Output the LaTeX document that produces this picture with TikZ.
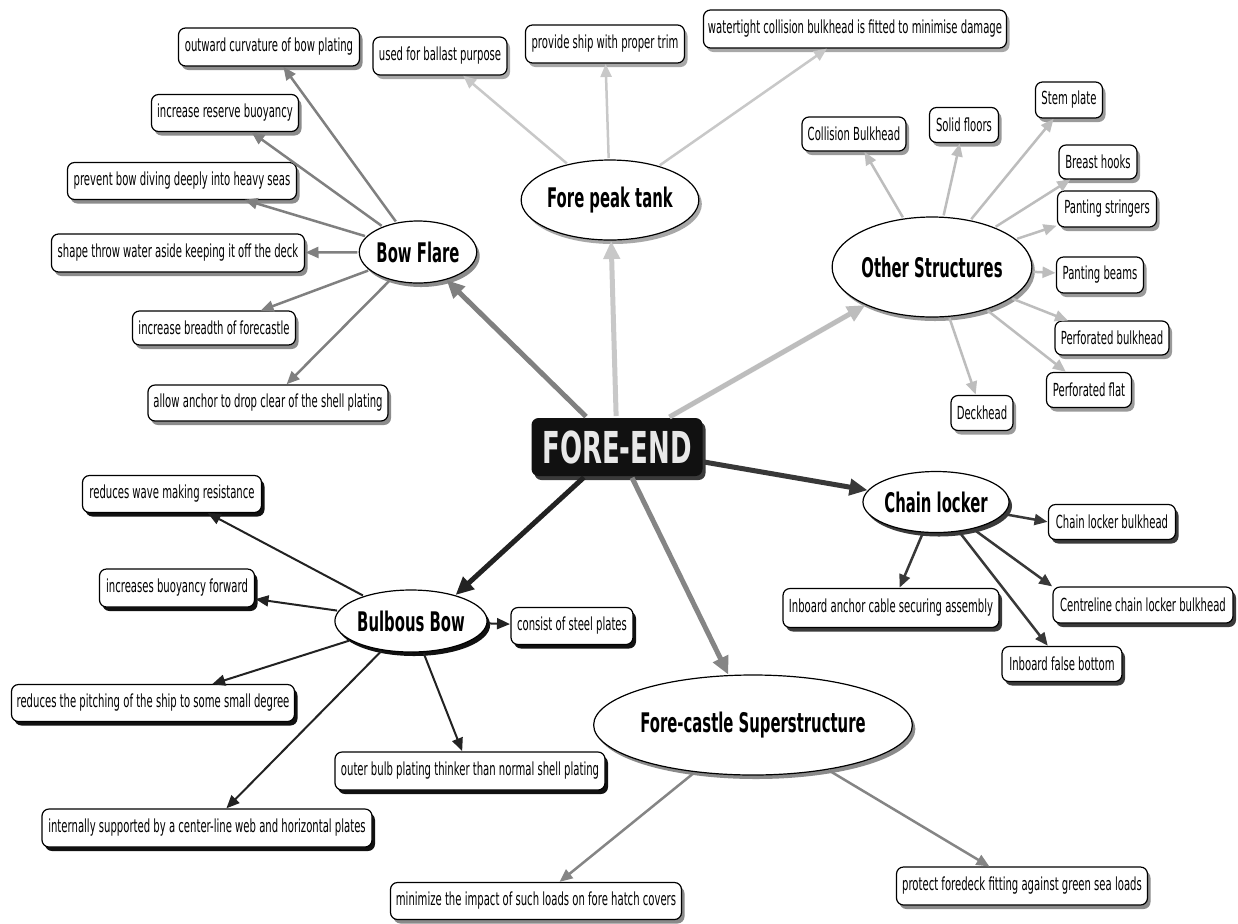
\documentclass[tikz,border=0pt]{standalone}
\usepackage{fontspec}
\setmainfont{DejaVu Sans}
\newfontfamily\lblfont[FakeStretch=0.56]{DejaVu Sans}
\newfontfamily\ttlfont[FakeStretch=0.55]{DejaVu Sans}
\newfontfamily\rootfont[FakeStretch=0.59]{DejaVu Sans}
\usetikzlibrary{arrows.meta,shapes.geometric,shadows}

% line and shadow tones of the six branches
\definecolor{lnFlare}{HTML}{808080}
\definecolor{lnPeak}{HTML}{C8C8C8}
\definecolor{lnOther}{HTML}{BDBDBD}
\definecolor{lnChain}{HTML}{383838}
\definecolor{lnBulb}{HTML}{222222}
\definecolor{lnCastle}{HTML}{858585}
\definecolor{shFlare}{HTML}{8C8C8C}
\definecolor{shPeak}{HTML}{A8A8A8}
\definecolor{shOther}{HTML}{9A9A9A}
\definecolor{shChain}{HTML}{3A3A3A}
\definecolor{shBulb}{HTML}{111111}
\definecolor{shCastle}{HTML}{8A8A8A}
\definecolor{rootText}{HTML}{E8E8E8}
\definecolor{rootFill}{HTML}{111111}

\tikzset{
  every node/.style={inner sep=0pt, outer sep=0pt, align=center},
  box/.style 2 args={minimum width=#1*0.5pt, minimum height=#2*0.5pt},
  shad/.style={drop shadow={shadow xshift=1.5pt, shadow yshift=-2pt, fill=#1, opacity=1}},
  leaf/.style={rectangle, draw=black, line width=0.6pt, fill=white, rounded corners=3.5pt,
    font=\lblfont\fontsize{9}{10}\selectfont},
  hub/.style={ellipse, draw=black, line width=0.6pt, fill=white,
    font=\ttlfont\bfseries\fontsize{13.5}{15}\selectfont},
  root/.style={rectangle, fill=rootFill, rounded corners=3.5pt, text=rootText,
    font=\rootfont\bfseries\fontsize{22}{24}\selectfont},
  sub/.style={draw=#1, line width=1.25pt, -{Triangle[length=6.5pt,width=5.5pt]},
    shorten <=1pt, shorten >=0.5pt},
  main/.style={draw=#1, line width=2.5pt, -{Triangle[length=9pt,width=8pt]},
    shorten <=1pt, shorten >=0.5pt},
}

\begin{document}
\begin{tikzpicture}[x=0.5pt, y=-0.5pt]
\fill[white] (0,0) rectangle (1238,923);
\path[use as bounding box] (0,0) rectangle (1238,923);

% ---------- centre ----------
\node[root, box={171}{58}, shad=shChain] (fe) at (617,447) {FORE-END};

% ---------- branch heads ----------
\node[hub, box={95}{62}, shad=shFlare] (bf) at (418,252) {Bow Flare};
\node[hub, box={142}{80}, shad=shPeak] (fp) at (610,200) {Fore peak tank};
\node[hub, box={157}{100}, shad=shOther] (os) at (932,267) {Other Structures};
\node[hub, box={114}{61}, shad=shChain] (cl) at (936,502) {Chain locker};
\node[hub, box={120}{62}, shad=shBulb] (bb) at (411,621) {Bulbous Bow};
\node[hub, box={238}{100}, shad=shCastle] (fc) at (753,725) {Fore-castle Superstructure};

% ---------- Bow Flare ----------
\node[leaf, box={181}{38}, shad=shFlare] (bf1) at (269,47) {outward curvature of bow plating};
\node[leaf, box={147}{37}, shad=shFlare] (bf2) at (225,113) {increase reserve buoyancy};
\node[leaf, box={229}{37}, shad=shFlare] (bf3) at (182,181) {prevent bow diving deeply into heavy seas};
\node[leaf, box={253}{38}, shad=shFlare] (bf4) at (178,253) {shape throw water aside keeping it off the deck};
\node[leaf, box={163}{34}, shad=shFlare] (bf5) at (214,328) {increase breadth of forecastle};
\node[leaf, box={240}{36}, shad=shFlare] (bf6) at (268,403) {allow anchor to drop clear of the shell plating};

% ---------- Fore peak tank ----------
\node[leaf, box={134}{38}, shad=shPeak] (fp1) at (440,56) {used for ballast purpose};
\node[leaf, box={159}{38}, shad=shPeak] (fp2) at (605,44) {provide ship with proper trim};
\node[leaf, box={303}{38}, shad=shPeak] (fp3) at (855,29) {watertight collision bulkhead is fitted to minimise damage};

% ---------- Other Structures ----------
\node[leaf, box={104}{34}, shad=shOther] (os1) at (854,134) {Collision Bulkhead};
\node[leaf, box={69}{35}, shad=shOther] (os2) at (964,125) {Solid floors};
\node[leaf, box={67}{36}, shad=shOther] (os3) at (1069,100) {Stem plate};
\node[leaf, box={78}{34}, shad=shOther] (os4) at (1098,162) {Breast hooks};
\node[leaf, box={99}{36}, shad=shOther] (os5) at (1107,209) {Panting stringers};
\node[leaf, box={87}{36}, shad=shOther] (os6) at (1100,275) {Panting beams};
\node[leaf, box={114}{34}, shad=shOther] (os7) at (1112,338) {Perforated bulkhead};
\node[leaf, box={85}{35}, shad=shOther] (os8) at (1089,390) {Perforated flat};
\node[leaf, box={62}{35}, shad=shOther] (os9) at (982,413) {Deckhead};

% ---------- Chain locker ----------
\node[leaf, box={127}{35}, shad=shChain] (cl1) at (1112,522) {Chain locker bulkhead};
\node[leaf, box={216}{39}, shad=shChain] (cl2) at (891,608) {Inboard anchor cable securing assembly};
\node[leaf, box={180}{36}, shad=shChain] (cl3) at (1143,605) {Centreline chain locker bulkhead};
\node[leaf, box={120}{35}, shad=shChain] (cl4) at (1062,664) {Inboard false bottom};

% ---------- Bulbous Bow ----------
\node[leaf, box={179}{37}, shad=shBulb] (bb1) at (172,494) {reduces wave making resistance};
\node[leaf, box={155}{38}, shad=shBulb] (bb2) at (177,588) {increases buoyancy forward};
\node[leaf, box={283}{37}, shad=shBulb] (bb3) at (153,703) {reduces the pitching of the ship to some small degree};
\node[leaf, box={330}{38}, shad=shBulb] (bb4) at (207,828) {internally supported by a center-line web and horizontal plates};
\node[leaf, box={270}{38}, shad=shBulb] (bb5) at (470,771) {outer bulb plating thinker than normal shell plating};
\node[leaf, box={122}{37}, shad=shBulb] (bb6) at (572,626) {consist of steel plates};

% ---------- Fore-castle Superstructure ----------
\node[leaf, box={291}{37}, shad=shCastle] (fc1) at (536,901) {minimize the impact of such loads on fore hatch covers};
\node[leaf, box={251}{38}, shad=shCastle] (fc2) at (1022,886) {protect foredeck fitting against green sea loads};

% ---------- connectors ----------
\draw[main=lnFlare] (fe) -- (bf);
\draw[main=lnPeak] (fe) -- (fp);
\draw[main=lnOther] (fe) -- (os);
\draw[main=lnChain] (fe) -- (cl);
\draw[main=lnBulb] (fe) -- (bb.30);
\draw[main=lnCastle] (fe) -- (fc);

\foreach \t in {bf1,bf2,bf3,bf4,bf5,bf6} \draw[sub=lnFlare] (bf) -- (\t);
\foreach \t in {fp1,fp2,fp3} \draw[sub=lnPeak] (fp) -- (\t);
\foreach \t in {os1,os2,os3,os4,os5,os6,os7,os8,os9} \draw[sub=lnOther] (os) -- (\t);
\draw[sub=lnChain] (cl) -- (cl1.west);
\draw[sub=lnChain] (cl) -- (cl2);
\draw[sub=lnChain] (cl) -- (cl3.north west);
\draw[sub=lnChain] (cl) -- (cl4);
\foreach \t in {bb1,bb2,bb3,bb4,bb5,bb6} \draw[sub=lnBulb, line width=1pt] (bb) -- (\t);
\foreach \t in {fc1,fc2} \draw[sub=lnCastle] (fc) -- (\t);
\end{tikzpicture}
\end{document}
